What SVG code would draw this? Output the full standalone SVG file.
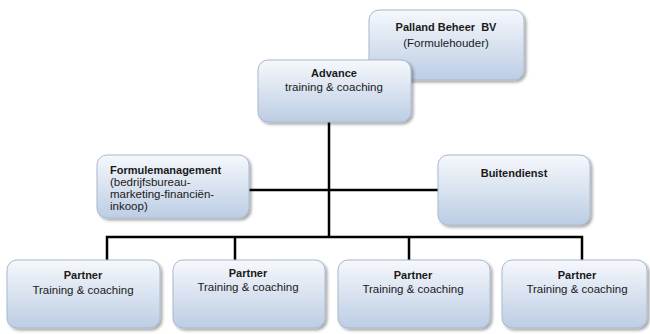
<svg xmlns="http://www.w3.org/2000/svg" width="650" height="334" viewBox="0 0 650 334">
<defs>
<linearGradient id="g" x1="0" y1="0" x2="0" y2="1">
<stop offset="0" stop-color="#f6f8fc"/>
<stop offset="1" stop-color="#bccde4"/>
</linearGradient>
<filter id="sh" x="-10%" y="-10%" width="125%" height="130%">
<feGaussianBlur in="SourceAlpha" stdDeviation="1.5"/>
<feOffset dx="1.5" dy="2" result="b"/>
<feComponentTransfer><feFuncA type="linear" slope="0.35"/></feComponentTransfer>
<feMerge><feMergeNode/><feMergeNode in="SourceGraphic"/></feMerge>
</filter>
</defs>
<style>
.box{fill:url(#g);stroke:#a9b8cf;stroke-width:1;filter:url(#sh)}
.t{font-family:"Liberation Sans",Arial,sans-serif;font-size:11.5px;fill:#1a1a1a;text-anchor:middle}
.b{font-weight:bold;font-size:11px}
.l{text-anchor:start}
.c{fill:none;stroke:#000;stroke-width:2.5}
</style>
<g id="connectors">
<path class="c" d="M329,120 V237"/>
<path class="c" d="M249,190 H438"/>
<path class="c" d="M107,260 V237 H582 V260"/>
<path class="c" d="M235,237 V260"/>
<path class="c" d="M409,237 V260"/>
</g>
<g id="palland">
<rect class="box" x="369" y="10" width="155" height="70" rx="10"/>
<text class="t b" x="446" y="31" xml:space="preserve">Palland Beheer  BV</text>
<text class="t" x="446" y="47">(Formulehouder)</text>
</g>
<g id="advance">
<rect class="box" x="258" y="60" width="153" height="62" rx="10"/>
<text class="t b" x="334" y="77">Advance</text>
<text class="t" x="334" y="91">training &amp; coaching</text>
</g>
<g id="formulemanagement">
<rect class="box" x="97" y="155" width="152" height="63" rx="10"/>
<text class="t b l" x="110" y="174">Formulemanagement</text>
<text class="t l" x="110" y="186">(bedrijfsbureau-</text>
<text class="t l" x="110" y="198">marketing-financiën-</text>
<text class="t l" x="110" y="210">inkoop)</text>
</g>
<g id="buitendienst">
<rect class="box" x="438" y="155" width="152" height="70" rx="10"/>
<text class="t b" x="514" y="177">Buitendienst</text>
</g>
<g id="partner1">
<rect class="box" x="7" y="260" width="153" height="68" rx="10"/>
<text class="t b" x="83" y="279">Partner</text>
<text class="t" x="83" y="294">Training &amp; coaching</text>
</g>
<g id="partner2">
<rect class="box" x="173" y="260" width="152" height="68" rx="10"/>
<text class="t b" x="248" y="277">Partner</text>
<text class="t" x="248" y="291">Training &amp; coaching</text>
</g>
<g id="partner3">
<rect class="box" x="338" y="260" width="152" height="68" rx="10"/>
<text class="t b" x="413" y="279">Partner</text>
<text class="t" x="413" y="293">Training &amp; coaching</text>
</g>
<g id="partner4">
<rect class="box" x="502" y="260" width="145" height="68" rx="10"/>
<text class="t b" x="577" y="279">Partner</text>
<text class="t" x="577" y="293">Training &amp; coaching</text>
</g>
</svg>
